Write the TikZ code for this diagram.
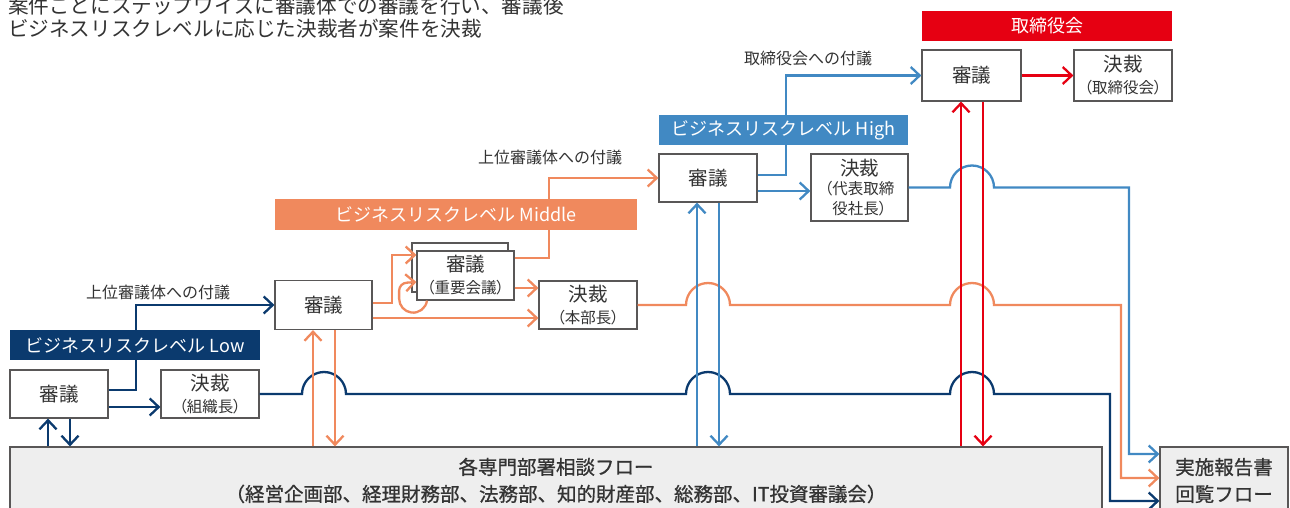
\documentclass[tikz,border=0pt]{standalone}
\usepackage{fontspec}
\setmainfont{Noto Sans CJK JP}
\newfontfamily\subf{Noto Sans CJK JP}[RawFeature={+palt}]
\newfontfamily\medf{Noto Sans CJK JP}[FakeBold=0.8]
\usetikzlibrary{arrows.meta,calc}
\definecolor{navy}{HTML}{0B3A6E}
\definecolor{orng}{HTML}{F0895D}
\definecolor{bluh}{HTML}{4189C3}
\definecolor{redd}{HTML}{E60012}
\definecolor{bord}{HTML}{595757}
\definecolor{txt}{HTML}{333333}
\definecolor{flowfill}{HTML}{EEEEEE}
\tikzset{
  box/.style={draw=bord, line width=1.2pt, fill=white, inner sep=0pt, text=txt, align=center, font=\fontsize{19.5}{22}\selectfont},
  banner/.style={fill=#1, text=white, inner sep=0pt, font=\fontsize{18}{20}\selectfont},
  conn/.style={line width=2.3pt, line join=miter, -{Straight Barb[length=9pt,width=17pt]}},
  lbl/.style={text=txt, inner sep=0pt, font=\fontsize{16}{18}\selectfont},
  ttl/.style={text=txt, inner sep=0pt, anchor=west, font=\fontsize{20.6}{22}\selectfont},
}
\newcommand{\sub}[1]{{\subf\fontsize{15.5}{15.5}\selectfont #1}}
\begin{document}
\begin{tikzpicture}[x=1pt,y=-1pt]
\useasboundingbox (0,0) rectangle (1290,508);
\clip (0,0) rectangle (1290,508);
% title
\node[ttl] (t1) at (8,5.5) {案件ごとにステップワイズに審議体での審議を行い、審議後};
\node[ttl] (t2) at (8,28.5) {ビジネスリスクレベルに応じた決裁者が案件を決裁};
% boxes
\node[box, minimum width=98pt, minimum height=48pt] (lowS) at (59,394) {審議};
\node[box, minimum width=98pt, minimum height=48pt] (lowD) at (210,394) {決裁\\\sub{（組織長）}};
\node[box, minimum width=97pt, minimum height=49pt] (midS) at (323.5,305) {審議};
\node[box, minimum width=96pt, minimum height=49pt] (midB) at (460,267.5) {};
\node[box, minimum width=97pt, minimum height=49pt] (midF) at (465.5,275.5) {審議\\\sub{（重要会議）}};
\node[box, minimum width=98pt, minimum height=48pt] (midD) at (588,305) {決裁\\\sub{（本部長）}};
\node[box, minimum width=98pt, minimum height=48pt] (highS) at (708,178) {審議};
\node[box, minimum width=97pt, minimum height=67pt, font=\fontsize{19.5}{19.5}\selectfont] (highD) at (859.5,187.5) {決裁\\\sub{（代表取締}\\\sub{役社長）}};
\node[box, minimum width=99pt, minimum height=51pt] (boardS) at (971.5,75.5) {審議};
\node[box, minimum width=98pt, minimum height=51pt] (boardD) at (1123,75.5) {決裁\\\sub{（取締役会）}};
\node[box, fill=flowfill, minimum width=1092pt, minimum height=67pt, font=\medf\fontsize{19.5}{27}\selectfont] (flow) at (556,480.5) {各専門部署相談フロー\\（経営企画部、経理財務部、法務部、知的財産部、総務部、IT投資審議会）};
\node[box, fill=flowfill, minimum width=128pt, minimum height=67pt, font=\medf\fontsize{19.5}{27}\selectfont] (rep) at (1224,480.5) {実施報告書\\回覧フロー};
% navy connectors
\draw[conn, navy] ($(lowS.east)+(0,-4)$) -- (136,390) -- (136,305) -- (midS.west);
\draw[conn, navy] ($(lowS.east)+(0,13)$) -- ($(lowD.west)+(0,13)$);
\draw[conn, navy] ($(flow.north -| lowS.south)+(-11,0)$) -- ($(lowS.south)+(-11,0)$);
\draw[conn, navy] ($(lowS.south)+(11,0)$) -- ($(flow.north -| lowS.south)+(11,0)$);
\draw[conn, navy] (lowD.east) -- (302,394) arc[start angle=180,end angle=360,radius=22] -- (686,394) arc[start angle=180,end angle=360,radius=22] -- (950,394) arc[start angle=180,end angle=360,radius=22] -- (1110,394) -- (1110,501) -- ($(rep.west)+(0,20.5)$);
% orange connectors
\draw[conn, orng] ($(midS.east)+(0,-2)$) -- (392,303) -- (392,255) -- ($(midF.west)+(0,-20.5)$);
\draw[conn, orng] ($(midF.south)+(-38.5,0)$) arc[start angle=8,end angle=180,radius=14] -- ++(0,-8) arc[start angle=180,end angle=270,radius=8] -- ($(midF.west)+(0,6.5)$);
\draw[conn, orng] ($(midS.east)+(0,13)$) -- ($(midD.west)+(0,13)$);
\draw[conn, orng] ($(midF.east)+(0,12.5)$) -- ($(midD.west)+(0,-17)$);
\draw[conn, orng] ($(midF.east)+(0,-17.5)$) -- (549,258) -- (549,178) -- (highS.west);
\draw[conn, orng] ($(flow.north -| midS.south)+(-10.5,0)$) -- ($(midS.south)+(-10.5,0)$);
\draw[conn, orng] ($(midS.south)+(11.5,0)$) -- ($(flow.north -| midS.south)+(11.5,0)$);
\draw[conn, orng] (midD.east) -- (686,305) arc[start angle=180,end angle=360,radius=22] -- (950,305) arc[start angle=180,end angle=360,radius=22] -- (1121,305) -- (1121,478) -- ($(rep.west)+(0,-2.5)$);
% blue connectors
\draw[conn, bluh] ($(highS.east)+(0,-3)$) -- (786,175) -- (786,75.5) -- (boardS.west);
\draw[conn, bluh] ($(highS.east)+(0,13)$) -- ($(highD.west)+(0,3.5)$);
\draw[conn, bluh] ($(flow.north -| highS.south)+(-11,0)$) -- ($(highS.south)+(-11,0)$);
\draw[conn, bluh] ($(highS.south)+(11,0)$) -- ($(flow.north -| highS.south)+(11,0)$);
\draw[conn, bluh] (highD.east) -- (950,187.5) arc[start angle=180,end angle=360,radius=22] -- (1129,187.5) -- (1129,454) -- ($(rep.west)+(0,-26.5)$);
% red connectors
\draw[conn, redd] (boardS.east) -- (boardD.west);
\draw[conn, redd] ($(flow.north -| boardS.south)+(-10.5,0)$) -- ($(boardS.south)+(-10.5,0)$);
\draw[conn, redd] ($(boardS.south)+(11.5,0)$) -- ($(flow.north -| boardS.south)+(11.5,0)$);
% banners
\node[banner=navy, minimum width=250pt, minimum height=30pt] (bLow) at (135,345) {ビジネスリスクレベル Low};
\node[banner=orng, minimum width=362pt, minimum height=31pt] (bMid) at (456,214.5) {ビジネスリスクレベル Middle};
\node[banner=bluh, minimum width=249pt, minimum height=30pt] (bHigh) at (783.5,130) {ビジネスリスクレベル High};
\node[banner=redd, minimum width=250pt, minimum height=30pt] (bBoard) at (1047,26) {取締役会};
% labels
\node[lbl] (l1) at (158,292) {上位審議体への付議};
\node[lbl] (l2) at (550,157) {上位審議体への付議};
\node[lbl] (l3) at (808,58) {取締役会への付議};
\end{tikzpicture}
\end{document}
